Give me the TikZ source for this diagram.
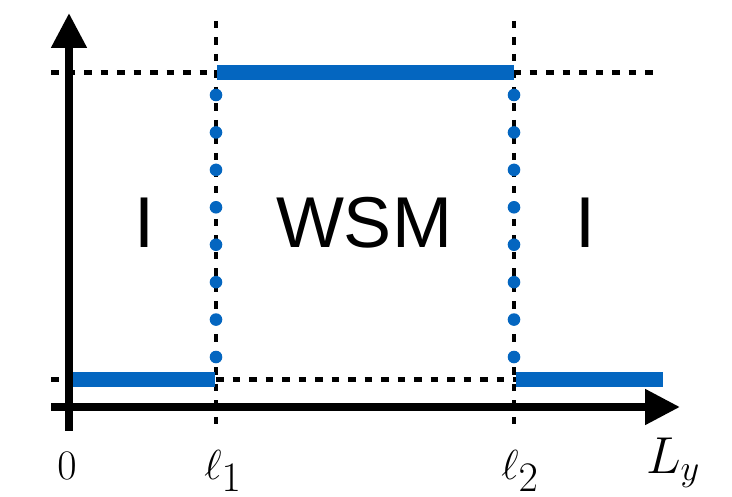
\RequirePackage{fix-cm}
\documentclass[tikz,border=0pt]{standalone}
\usepackage{fontspec}
\setsansfont{Liberation Sans}
\usetikzlibrary{arrows.meta}
\definecolor{barblue}{RGB}{4,102,192}
\tikzset{
  axis/.style={line width=8pt,-{Triangle[length=35pt,width=34pt]}},
  guide/.style={line width=4.5pt,dash pattern=on 7.5pt off 9pt},
  bar/.style={line width=15.5pt,barblue},
  dotmark/.style={fill=barblue,draw=none},
  region/.style={font=\sffamily\fontsize{72}{72}\selectfont,anchor=center},
  tick/.style={anchor=base,font=\fontsize{42}{42}\selectfont}
}
\begin{document}
\begin{tikzpicture}[x=1pt,y=-1pt]
\useasboundingbox (0,0) rectangle (732,497);
% reference points
\coordinate (xs) at (51,407);
\coordinate (xe) at (680,407);
\coordinate (ys) at (69,431);
\coordinate (ye) at (69,13);
\coordinate (h1a) at (51,72.5);
\coordinate (h1b) at (660,72.5);
\coordinate (h2a) at (51,379.5);
\coordinate (h2b) at (518,379.5);
\coordinate (v1a) at (216,21);
\coordinate (v1b) at (216,432);
\coordinate (v2a) at (514,21);
\coordinate (v2b) at (514,432);
% dashed guides
\draw[guide] (h1a) -- (h1b);
\draw[guide] (h2a) -- (h2b);
\draw[guide] (v1a) -- (v1b);
\draw[guide] (v2a) -- (v2b);
% blue bars
\coordinate (t1) at (217,72.5);
\coordinate (t2) at (514,72.5);
\coordinate (b1) at (73,379.5);
\coordinate (b2) at (215,379.5);
\coordinate (b3) at (516,379.5);
\coordinate (b4) at (663,379.5);
\draw[bar] (t1) -- (t2);
\draw[bar] (b1) -- (b2);
\draw[bar] (b3) -- (b4);
% dotted transitions
\foreach \k in {0,...,7}{
  \fill[dotmark] (216,95+37.43*\k) circle (6.3);
  \fill[dotmark] (514,95+37.43*\k) circle (6.3);
}
% axes
\draw[axis] (xs) -- (xe);
\draw[axis] (ys) -- (ye);
% region labels
\node[region] (r1) at (145,223) {I};
\node[region] (r2) at (364,223) {WSM};
\node[region] (r3) at (585,223) {I};
% tick labels
\node[tick] (zero) at (67,479) {$0$};
\node[tick] (l1) at (223,479) {$\ell_{\textstyle 1}$};
\node[tick] (l2) at (520,479) {$\ell_{\textstyle 2}$};
\node[tick,font=\fontsize{52}{52}\selectfont] (ly) at (673,473) {$L_y$};
\end{tikzpicture}
\end{document}
